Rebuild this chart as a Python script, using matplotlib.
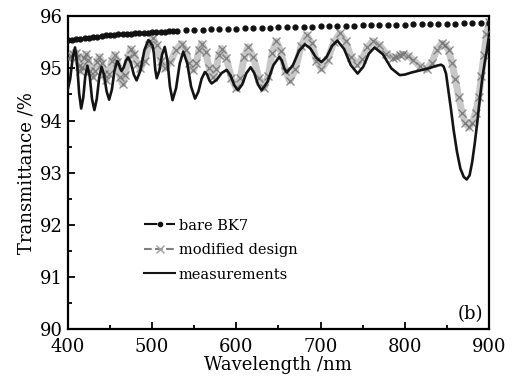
import numpy as np
import matplotlib
matplotlib.use("Agg")
import matplotlib.pyplot as plt
from matplotlib.lines import Line2D
from matplotlib.ticker import MultipleLocator

plt.rcParams["font.family"] = ["DejaVu Serif"]

# bare BK7 substrate (dense up to 530 nm, then every 10 nm)
bk7_wl = np.concatenate([np.arange(400, 531, 5), np.arange(540, 901, 10)])
bk7_T = [95.54, 95.55, 95.56, 95.57, 95.58, 95.59, 95.60, 95.61, 95.62, 95.63,
         95.635, 95.64, 95.65, 95.655, 95.66, 95.665, 95.67, 95.675, 95.68, 95.685,
         95.69, 95.695, 95.70, 95.705, 95.71, 95.715, 95.72,
         95.73, 95.735, 95.74, 95.745, 95.75, 95.755, 95.76, 95.765, 95.77, 95.775,
         95.78, 95.785, 95.79, 95.795, 95.80, 95.80, 95.805, 95.81, 95.815, 95.82,
         95.82, 95.825, 95.83, 95.83, 95.835, 95.84, 95.84, 95.845, 95.845, 95.85,
         95.85, 95.855, 95.855, 95.86, 95.86, 95.865, 95.865]

# modified design
mod_wl = [400, 403.2, 406.3, 409.5, 411.3, 413.2, 415, 417.2, 419.3, 421.5,
          424.2, 426.8, 429.5, 432.2, 434.8, 437.5, 440.2, 442.8, 445.5, 448.8,
          452.2, 455.5, 458.7, 461.8, 465, 468.2, 471.3, 474.5, 478.3, 482.2,
          486, 491, 496, 501, 505.7, 510.3, 515, 521.7, 528.3, 535,
          539.7, 544.3, 549, 552.3, 555.7, 559, 563.5, 568, 572.5, 575.8,
          579.2, 582.5, 588.3, 594.2, 600, 604.7, 609.3, 614, 620.3, 626.7,
          633, 637.8, 642.7, 647.5, 652.8, 658.2, 663.5, 670.2, 676.8, 683.5,
          689.3, 695.2, 701, 708.3, 715.7, 723, 729.7, 736.3, 743, 749.3,
          755.7, 762, 770, 778, 786, 790, 794, 798, 804, 810,
          818, 826, 832, 838, 844, 848, 852, 856, 860, 864,
          868, 872, 876, 880, 884, 888, 891, 894, 897, 900]
mod_T = [95.20, 95.23, 95.28, 95.30, 95.21, 95.04, 94.95, 95.03, 95.19, 95.27,
         95.16, 94.95, 94.84, 94.94, 95.13, 95.22, 95.11, 94.89, 94.78, 94.90,
         95.14, 95.26, 95.12, 94.84, 94.70, 94.87, 95.20, 95.37, 95.28, 95.09,
         95.00, 95.15, 95.44, 95.58, 95.44, 95.15, 95.00, 95.12, 95.35, 95.47,
         95.35, 95.10, 94.97, 95.10, 95.35, 95.47, 95.31, 95.00, 94.84, 94.98,
         95.25, 95.38, 95.19, 94.81, 94.62, 94.82, 95.21, 95.41, 95.21, 94.82,
         94.62, 94.85, 95.30, 95.52, 95.33, 94.95, 94.76, 94.98, 95.42, 95.64,
         95.48, 95.15, 94.99, 95.16, 95.50, 95.67, 95.52, 95.22, 95.07, 95.18,
         95.41, 95.52, 95.44, 95.28, 95.20, 95.22, 95.25, 95.27, 95.24, 95.16,
         95.04, 94.98, 95.10, 95.36, 95.48, 95.44, 95.35, 95.10, 94.80, 94.45,
         94.15, 93.95, 93.87, 93.95, 94.15, 94.45, 94.85, 95.25, 95.65, 95.88]

# measurements
meas_wl = [400, 402.8, 405.7, 408.5, 410.9, 413.4, 415.8, 418.3, 420.7, 423.2,
           426.0, 428.7, 431.5, 434.3, 437.2, 440.0, 443.0, 446.0, 449.0, 452.2,
           455.4, 458.6, 460.3, 462.0, 463.7, 466.3, 469.0, 471.6, 474.9, 478.3,
           481.6, 486.2, 490.9, 495.5, 497.2, 498.8, 500.5, 502.2, 503.8, 505.5,
           508.7, 511.8, 515.0, 518.1, 521.2, 524.3, 528.5, 532.8, 537.0, 541.7,
           546.3, 551.0, 554.9, 558.8, 562.7, 565.4, 568.0, 570.7, 576.6, 582.6,
           588.5, 593.0, 597.5, 602.0, 607.0, 612.0, 617.0, 621.3, 625.7, 630.0,
           637.0, 644.0, 651.0, 654.0, 657.0, 660.0, 667.2, 674.3, 681.5, 688.0,
           694.5, 701.0, 707.3, 713.7, 720.0, 728.0, 736.0, 744.0, 750.7, 757.3,
           764.0, 774.0, 784.0, 794.0, 800, 808, 818, 828, 838, 843,
           846, 849, 852, 855, 858, 862, 866, 870, 873.5, 877,
           880, 883, 886, 889, 892, 895, 897, 900]
meas_T = [94.60, 94.80, 95.20, 95.40, 95.11, 94.52, 94.23, 94.44, 94.85, 95.05,
          94.84, 94.41, 94.20, 94.41, 94.82, 95.03, 94.87, 94.56, 94.40, 94.59,
          94.96, 95.14, 95.09, 95.00, 94.95, 95.02, 95.15, 95.21, 95.10, 94.88,
          94.77, 94.96, 95.35, 95.54, 95.52, 95.47, 95.44, 95.28, 94.97, 94.81,
          94.96, 95.26, 95.41, 95.16, 94.65, 94.39, 94.62, 95.09, 95.32, 95.10,
          94.65, 94.42, 94.55, 94.80, 94.93, 94.88, 94.77, 94.71, 94.78, 94.91,
          94.97, 94.87, 94.68, 94.58, 94.69, 94.91, 95.02, 94.91, 94.69, 94.58,
          94.74, 95.06, 95.22, 95.15, 95.00, 94.92, 95.06, 95.33, 95.46, 95.38,
          95.21, 95.12, 95.22, 95.43, 95.53, 95.37, 95.06, 94.90, 95.03, 95.28,
          95.40, 95.27, 95.00, 94.87, 94.88, 94.92, 94.96, 95.00, 95.05, 95.07,
          95.04, 94.90, 94.55, 94.20, 93.82, 93.40, 93.08, 92.92, 92.87, 92.95,
          93.20, 93.55, 93.95, 94.40, 94.80, 95.12, 95.30, 95.62]

labels = ["bare BK7", "modified design", "measurements"]

fig = plt.figure(figsize=(5.18, 3.85), dpi=100)
ax = fig.add_axes([0.131, 0.145, 0.813, 0.813])

# modified design drawn as a dense band of crosses
ax.plot(mod_wl, mod_T, color="#9c9c9c", lw=5, alpha=0.55, zorder=2)
ax.plot(mod_wl, mod_T, ls="none", marker="x", ms=5.5, mew=1.0,
        color="#6a6a6a", alpha=0.75, zorder=3)
ax.plot(meas_wl, meas_T, color="#141414", lw=1.9, zorder=4)
ax.plot(bk7_wl, bk7_T, ls="none", marker="o", ms=3.5, color="#111111", zorder=5)

handles = [
    Line2D([], [], color="#111111", ls="-.", lw=1.5, marker="o", ms=3),
    Line2D([], [], color="#808080", ls="--", lw=1.5, marker="x", ms=6,
           mew=1, markeredgecolor="#a0a0a0"),
    Line2D([], [], color="#141414", lw=1.5),
]
ax.legend(handles, labels, loc="upper left", bbox_to_anchor=(0.168, 0.372),
          frameon=False, fontsize=10.5, handlelength=2.1, handletextpad=0.25,
          labelspacing=0.72, numpoints=1, borderaxespad=0)

ax.text(0.986, 0.02, "(b)", transform=ax.transAxes, ha="right", va="bottom",
        fontsize=13)

ax.set_xlim(400, 900)
ax.set_ylim(90, 96)
ax.xaxis.set_major_locator(MultipleLocator(100))
ax.xaxis.set_minor_locator(MultipleLocator(50))
ax.yaxis.set_major_locator(MultipleLocator(1))
ax.yaxis.set_minor_locator(MultipleLocator(0.5))
ax.tick_params(which="both", direction="in", top=False, right=False,
               labelsize=13, width=1.3)
ax.tick_params(which="major", length=5)
ax.tick_params(which="minor", length=3)
ax.tick_params(axis="x", pad=6)
for s in ax.spines.values():
    s.set_linewidth(1.6)

ax.set_xlabel("Wavelength /nm", fontsize=13, labelpad=0)
ax.set_ylabel("Transmittance /%", fontsize=13, labelpad=3)

fig.savefig("out.png", dpi=100)
